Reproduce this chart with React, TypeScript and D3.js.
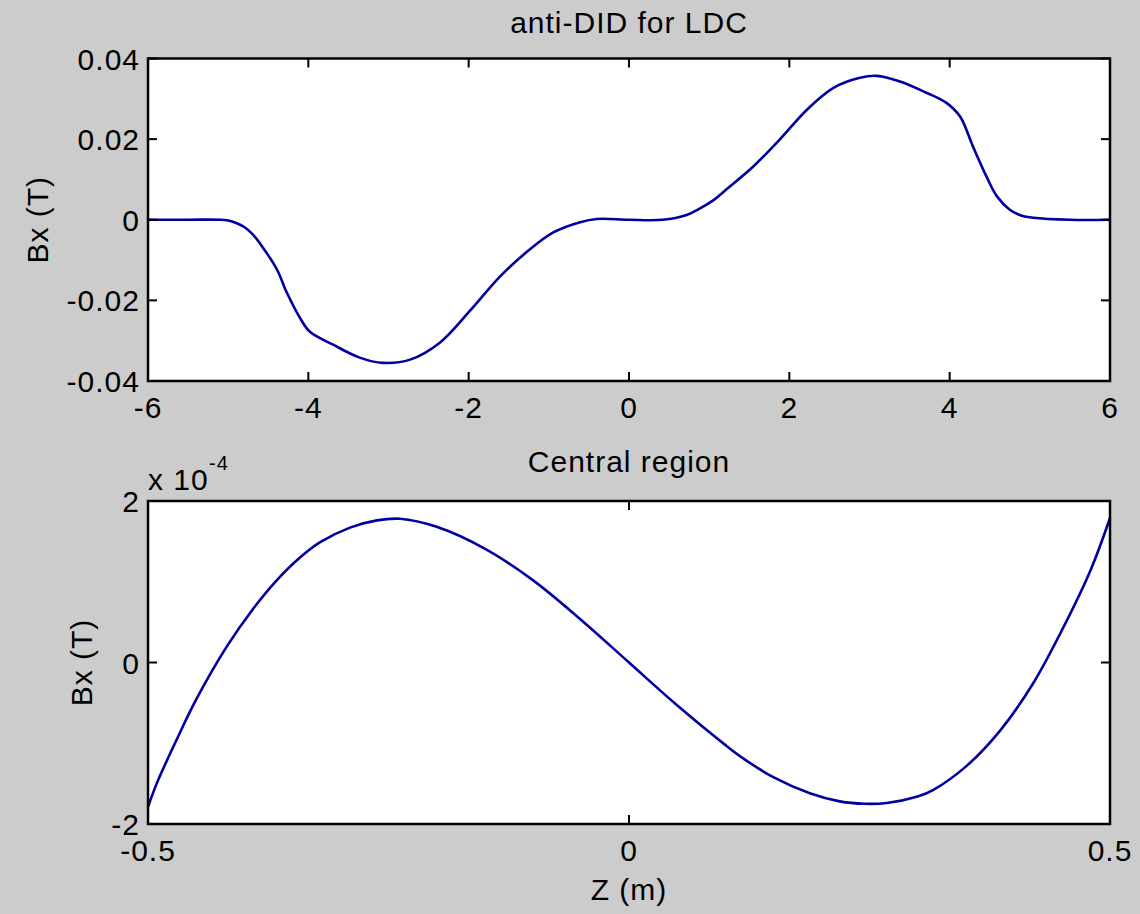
import { useEffect, useRef } from "react";
import * as d3 from "d3";

// top panel: anti-DID field over the whole range
const zTop = [-6, -5.5, -5.1, -5.0, -4.9, -4.8, -4.7, -4.57, -4.39, -4.27, -4.1, -3.98, -3.69, -3.36, -3.07, -2.73, -2.36, -1.98, -1.61, -1.27, -0.95, -0.61, -0.4, 0, 0.42, 0.72, 0.886, 1.05, 1.22, 1.55, 1.88, 2.22, 2.55, 2.88, 3.09, 3.38, 3.71, 3.96, 4.13, 4.29, 4.46, 4.59, 4.75, 4.9, 5.04, 5.5, 6];
const bxTop = [0, 0, 0, -0.0002, -0.0008, -0.0018, -0.0035, -0.0068, -0.0124, -0.018, -0.0245, -0.0278, -0.031, -0.0342, -0.0355, -0.0347, -0.0305, -0.0225, -0.0141, -0.0079, -0.0032, -0.0006, 0.0002, 0, 0, 0.0012, 0.0028, 0.0048, 0.0076, 0.0132, 0.0199, 0.0273, 0.0327, 0.0352, 0.0357, 0.0343, 0.0315, 0.029, 0.0256, 0.0182, 0.0107, 0.0058, 0.0025, 0.001, 0.0005, 0, 0];
const topXTicks = [-6, -4, -2, 0, 2, 4, 6];
const topYTicks = [-0.04, -0.02, 0, 0.02, 0.04];
const topYLabels = ["-0.04", "-0.02", "0", "0.02", "0.04"];

// bottom panel: central region, values in units of 1e-4 T
const zCentral = [-0.5, -0.491, -0.47, -0.45, -0.418, -0.391, -0.366, -0.342, -0.321, -0.29, -0.262, -0.238, -0.2, -0.15, -0.1, -0.05, 0, 0.05, 0.1, 0.119, 0.15, 0.188, 0.219, 0.245, 0.268, 0.3, 0.316, 0.351, 0.386, 0.42, 0.45, 0.48, 0.5];
const bxCentralE4 = [-1.79, -1.5, -0.95, -0.46, 0.2, 0.66, 1.02, 1.3, 1.49, 1.67, 1.76, 1.78, 1.68, 1.41, 1.02, 0.53, 0, -0.53, -1.02, -1.19, -1.42, -1.62, -1.72, -1.75, -1.74, -1.66, -1.58, -1.28, -0.84, -0.26, 0.4, 1.15, 1.79];
const centralXTicks = [-0.5, 0, 0.5];
const centralXLabels = ["-0.5", "0", "0.5"];
const centralYTicks = [-2, 0, 2];

const FONT = "'Liberation Sans', Arial, sans-serif";
const LINE = "#0000a0";

const App = () => {
    const ref = useRef<SVGSVGElement>(null);

    useEffect(() => {
        const svg = d3.select(ref.current);
        svg.selectAll("*").remove();

        const left = 148, right = 1110;

        const panel = (
            top: number, bottom: number,
            xs: number[], ys: number[],
            xDomain: [number, number], yDomain: [number, number],
            xTicks: number[], xLabels: string[],
            yTicks: number[], yLabels: string[],
            title: string, titleY: number, yLabelX: number
        ) => {
            const x = d3.scaleLinear().domain(xDomain).range([left, right]);
            const y = d3.scaleLinear().domain(yDomain).range([bottom, top]);

            svg.append("rect")
                .attr("x", left).attr("y", top)
                .attr("width", right - left).attr("height", bottom - top)
                .attr("fill", "#ffffff");

            const line = d3.line<number>()
                .x((d, i) => x(xs[i]))
                .y(d => y(d))
                .curve(d3.curveCatmullRom.alpha(0.5));

            svg.append("path")
                .datum(ys)
                .attr("d", line)
                .attr("fill", "none")
                .attr("stroke", LINE)
                .attr("stroke-width", 2.6);

            const tl = 9;
            const g = svg.append("g").attr("stroke", "#000").attr("stroke-width", 2);
            xTicks.forEach(t => {
                g.append("line").attr("x1", x(t)).attr("x2", x(t)).attr("y1", bottom).attr("y2", bottom - tl);
                g.append("line").attr("x1", x(t)).attr("x2", x(t)).attr("y1", top).attr("y2", top + tl);
            });
            yTicks.forEach(t => {
                g.append("line").attr("x1", left).attr("x2", left + tl).attr("y1", y(t)).attr("y2", y(t));
                g.append("line").attr("x1", right).attr("x2", right - tl).attr("y1", y(t)).attr("y2", y(t));
            });

            svg.append("rect")
                .attr("x", left).attr("y", top)
                .attr("width", right - left).attr("height", bottom - top)
                .attr("fill", "none")
                .attr("stroke", "#000")
                .attr("stroke-width", 2.5);

            const txt = svg.append("g")
                .attr("font-family", FONT)
                .attr("font-size", 30)
                .attr("letter-spacing", 1)
                .attr("fill", "#000");

            xTicks.forEach((t, i) => {
                txt.append("text")
                    .attr("x", x(t)).attr("y", bottom + 37)
                    .attr("text-anchor", "middle")
                    .text(xLabels[i]);
            });
            yTicks.forEach((t, i) => {
                txt.append("text")
                    .attr("x", 140).attr("y", y(t) + 11)
                    .attr("text-anchor", "end")
                    .text(yLabels[i]);
            });

            txt.append("text")
                .attr("x", (left + right) / 2).attr("y", titleY)
                .attr("text-anchor", "middle")
                .text(title);

            txt.append("text")
                .attr("transform", "translate(" + yLabelX + "," + (top + bottom) / 2 + ") rotate(-90)")
                .attr("text-anchor", "middle")
                .text("Bx (T)");

            return txt;
        };

        panel(58.5, 381, zTop, bxTop, [-6, 6], [-0.04, 0.04],
            topXTicks, topXTicks.map(String), topYTicks, topYLabels,
            "anti-DID for LDC", 33, 48);

        const txt = panel(501, 824, zCentral, bxCentralE4, [-0.5, 0.5], [-2, 2],
            centralXTicks, centralXLabels, centralYTicks, centralYTicks.map(String),
            "Central region", 472, 92);

        // exponent label
        txt.append("text").attr("x", 148).attr("y", 490).text("x 10");
        txt.append("text").attr("x", 209).attr("y", 470).attr("font-size", 20).text("-4");

        txt.append("text")
            .attr("x", 629).attr("y", 900)
            .attr("text-anchor", "middle")
            .text("Z (m)");
    }, []);

    return (
        <svg
            ref={ref}
            width={1140}
            height={914}
            style={{ position: "absolute", left: 0, top: 0, background: "#cccccc" }}
        />
    );
};

export default App;
